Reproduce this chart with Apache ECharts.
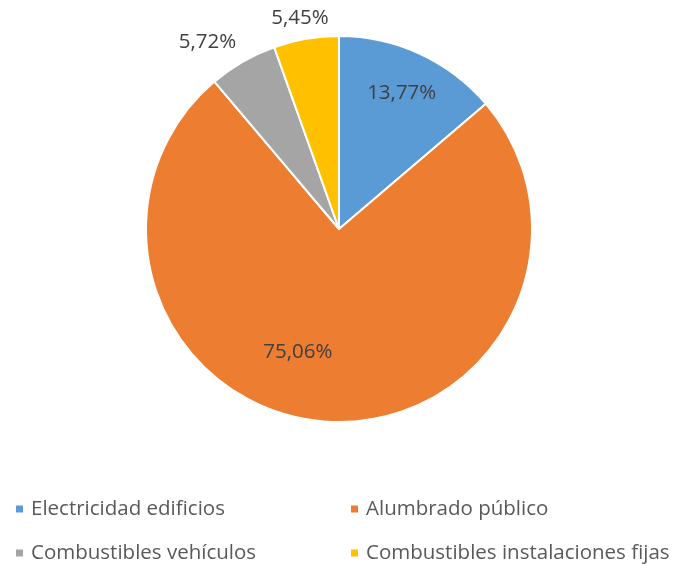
<!DOCTYPE html>
<html>
<head>
<meta charset="utf-8">
<script src="https://cdn.jsdelivr.net/npm/echarts@6/dist/echarts.min.js"></script>
<style>html,body{margin:0;padding:0;background:#fff;}#c{width:677px;height:564px;}</style>
</head>
<body>
<div id="c"></div>
<script>
const categories = ['Electricidad edificios', 'Alumbrado público', 'Combustibles vehículos', 'Combustibles instalaciones fijas'];
const values = [13.77, 75.06, 5.72, 5.45];
const colors = ['#5B9BD5', '#ED7D31', '#A5A5A5', '#FFC000'];
const labelShift = [[21, -46], [-33, 24], [-82, -101], [-22, -113]];

const FONT = 'Open Sans';
const chart = echarts.init(document.getElementById('c'), null, {renderer: 'canvas'});
const legendCommon = {
  orient: 'vertical',
  top: 497,
  height: 80,
  icon: 'rect',
  itemWidth: 9,
  itemHeight: 9,
  itemGap: 20,
  padding: 0,
  selectedMode: false,
  textStyle: {fontFamily: FONT, fontSize: 20.5, lineHeight: 24, color: '#595959', padding: [0, 0, 0, 2]}
};
chart.setOption({
  animation: false,
  color: colors,
  legend: [
    Object.assign({}, legendCommon, {left: 14, data: [categories[0], categories[2]]}),
    Object.assign({}, legendCommon, {left: 349, data: [categories[1], categories[3]]})
  ],
  series: [{
    type: 'pie',
    center: [339, 229],
    radius: 193,
    startAngle: 90,
    clockwise: true,
    avoidLabelOverlap: false,
    itemStyle: {borderColor: '#fff', borderWidth: 2},
    label: {
      show: true,
      position: 'inside',
      fontFamily: FONT,
      fontSize: 20.5,
      color: '#404040',
      formatter: p => p.value.toFixed(2).replace('.', ',') + '%'
    },
    labelLine: {show: false},
    labelLayout: p => ({dx: labelShift[p.dataIndex][0], dy: labelShift[p.dataIndex][1]}),
    emphasis: {disabled: true},
    data: categories.map((n, i) => ({name: n, value: values[i]}))
  }]
});
</script>
</body>
</html>
